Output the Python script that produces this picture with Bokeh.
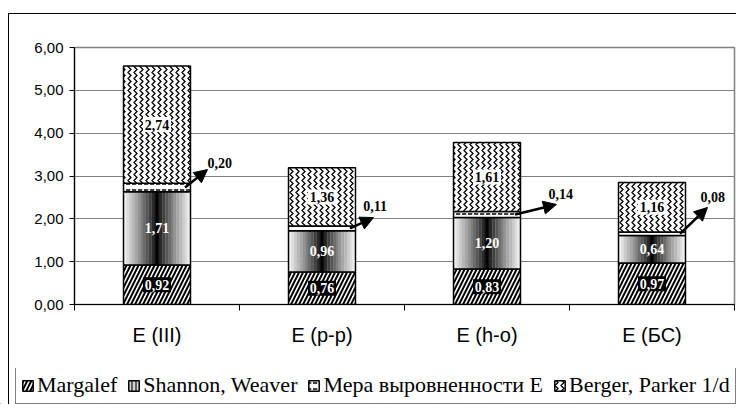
import numpy as np
from bokeh.plotting import figure
from bokeh.layouts import column
from bokeh.models import (ColumnDataSource, FixedTicker, LabelSet, Arrow, NormalHead,
                          Legend, LegendItem, InlineStyleSheet)
from bokeh.embed import file_html
from bokeh.resources import INLINE

# ---- data ----
categories = ["E (III)", "E (р-р)", "E (h-o)", "E (БС)"]
series_names = ["Margalef", "Shannon, Weaver", "Мера выровненности E", "Berger, Parker 1/d"]
margalef = [0.92, 0.76, 0.83, 0.97]
shannon = [1.71, 0.96, 1.20, 0.64]
mera = [0.20, 0.11, 0.14, 0.08]
berger = [2.74, 1.36, 1.61, 1.16]
y_ticks = [0, 1, 2, 3, 4, 5, 6]
y_tick_labels = ["0,00", "1,00", "2,00", "3,00", "4,00", "5,00", "6,00"]

# ---- styling constants (callout offsets for the thin series, data units) ----
callout_end = [(0.306, 0.42), (0.312, 0.255), (0.421, 0.235), (0.336, 0.615)]
callout_lbl = [(0.306, 0.585), (0.25, 0.535), (0.373, 0.49), (0.294, 0.85)]
BAR_W = 0.406
SERIF = "Liberation Serif"
SANS = "Liberation Sans"

STYLE_M = dict(fill_color="white", line_color="black", line_width=1.5,
               hatch_pattern="right_diagonal_line", hatch_color="black",
               hatch_weight=2.0, hatch_scale=8)
STYLE_E = dict(fill_color="white", line_color="black", line_width=1.5,
               hatch_pattern="horizontal_dash", hatch_color="black",
               hatch_weight=1.5, hatch_scale=6)
STYLE_B = dict(fill_color="white", line_color="black", line_width=1.5,
               hatch_pattern="vertical_wave", hatch_color="black",
               hatch_weight=1.3, hatch_scale=6)
STYLE_S_LEG = dict(fill_color="#606060", line_color="black", line_width=1.5,
                   hatch_pattern="vertical_line", hatch_color="white",
                   hatch_weight=1.5, hatch_scale=4)


def fmt(v):
    return f"{v:.2f}".replace(".", ",")


n = len(categories)
x = np.arange(n) + 0.5
b0 = np.zeros(n); t0 = b0 + np.array(margalef)
b1 = t0; t1 = b1 + np.array(shannon)
b2 = t1; t2 = b2 + np.array(mera)
b3 = t2; t3 = b3 + np.array(berger)

src = ColumnDataSource(dict(
    x=x, b0=b0, t0=t0, b1=b1, t1=t1, b2=b2, t2=t2, b3=b3, t3=t3,
    m0=(b0 + t0) / 2, m1=(b1 + t1) / 2, m2=(b2 + t2) / 2, m3=(b3 + t3) / 2,
    l0=[fmt(v) for v in margalef], l1=[fmt(v) for v in shannon],
    l2=[fmt(v) for v in mera], l3=[fmt(v) for v in berger],
))

p = figure(width=736, height=368, output_backend="svg", toolbar_location=None,
           x_range=(0, n), y_range=(0, 6),
           min_border_left=74, min_border_right=2, min_border_top=47, min_border_bottom=64)
p.background_fill_color = "white"
p.border_fill_color = "white"
p.outline_line_color = "#808080"
p.outline_line_width = 1.5
p.xgrid.grid_line_color = None
p.ygrid.grid_line_color = "#808080"
p.ygrid.grid_line_width = 1.2
p.ygrid.ticker = FixedTicker(ticks=y_ticks)

# Margalef
p.vbar(x="x", width=BAR_W, bottom="b0", top="t0", source=src, **STYLE_M)

# Shannon: gradient built from narrow strips
ns = 24
offs = (np.arange(ns) + 0.5) / ns - 0.5
tt = np.abs(offs) / 0.5
g = (248 * tt ** 0.85).astype(int)
strip_colors = ["#%02x%02x%02x" % (v, v, v) for v in np.tile(g, n)]
strip_src = ColumnDataSource(dict(
    x=(x[:, None] + offs[None, :] * BAR_W).ravel(),
    b=np.repeat(b1, ns), t=np.repeat(t1, ns), c=strip_colors))
p.vbar(x="x", width=BAR_W / ns * 1.08, bottom="b", top="t", source=strip_src,
       fill_color="c", line_color=None)
p.segment(x0="x", y0="b1", x1="x", y1="t1", source=src, line_color="black", line_width=1.5)
p.vbar(x="x", width=BAR_W, bottom="b1", top="t1", source=src, fill_color=None,
       line_color="black", line_width=1.5)

# Мера выровненности E
p.vbar(x="x", width=BAR_W, bottom="b2", top="t2", source=src, **STYLE_E)

# Berger, Parker
p.vbar(x="x", width=BAR_W, bottom="b3", top="t3", source=src, **STYLE_B)

# label backgrounds
p.rect(x="x", y="m0", width=28, height=15, width_units="screen", height_units="screen",
       source=src, fill_color="black", line_color=None)
p.rect(x="x", y="m3", width=28, height=15, width_units="screen", height_units="screen",
       source=src, fill_color="white", line_color=None)

# value labels
lbl_kw = dict(source=src, text_font=SERIF, text_font_style="bold", text_font_size="14px",
              text_align="center", text_baseline="middle")
p.add_layout(LabelSet(x="x", y="m0", text="l0", text_color="white", **lbl_kw))
p.add_layout(LabelSet(x="x", y="m1", text="l1", text_color="white", **lbl_kw))
p.add_layout(LabelSet(x="x", y="m3", text="l3", text_color="black", **lbl_kw))

# callouts for the thin series
csrc = ColumnDataSource(dict(
    xs=x + 0.17, ys=(b2 + t2) / 2,
    xe=x + np.array([c[0] for c in callout_end]), ye=(b2 + t2) / 2 + np.array([c[1] for c in callout_end]),
    xl=x + np.array([c[0] for c in callout_lbl]), yl=(b2 + t2) / 2 + np.array([c[1] for c in callout_lbl]),
    txt=[fmt(v) for v in mera]))
p.add_layout(Arrow(end=NormalHead(size=13, fill_color="black", line_color="black"),
                   x_start="xs", y_start="ys", x_end="xe", y_end="ye", source=csrc,
                   line_color="black", line_width=2.5))
p.add_layout(LabelSet(x="xl", y="yl", text="txt", source=csrc, text_font=SERIF,
                      text_font_style="bold", text_font_size="14px", text_align="left",
                      text_baseline="middle", text_color="black"))

# axes
xa = p.xaxis[0]
xa.ticker = FixedTicker(ticks=list(x), minor_ticks=list(range(n + 1)))
xa.major_label_overrides = {float(xi): c for xi, c in zip(x, categories)}
xa.major_tick_out = 0
xa.major_tick_in = 0
xa.minor_tick_out = 6
xa.minor_tick_in = 0
xa.minor_tick_line_color = "black"
xa.axis_line_color = "black"
xa.axis_line_width = 1.2
xa.major_label_text_font = SANS
xa.major_label_text_font_size = "20px"
xa.major_label_text_color = "black"
xa.major_label_standoff = 13

ya = p.yaxis[0]
ya.ticker = FixedTicker(ticks=y_ticks)
ya.major_label_overrides = {t: l for t, l in zip(y_ticks, y_tick_labels)}
ya.major_tick_out = 5
ya.major_tick_in = 0
ya.minor_tick_out = 0
ya.minor_tick_in = 0
ya.axis_line_color = "black"
ya.axis_line_width = 1.2
ya.major_label_text_font = SANS
ya.major_label_text_font_size = "15px"
ya.major_label_text_color = "black"
ya.major_label_standoff = 6

# ---- legend strip (separate figure so the legend is not clipped) ----
q = figure(width=736, height=36, output_backend="svg", toolbar_location=None,
           x_axis_location=None, y_axis_location=None, min_border=0,
           x_range=(0, 1), y_range=(0, 1))
for fig in (p, q):
    if hasattr(fig, "frame_align"):
        fig.frame_align = False
q.outline_line_color = None
q.background_fill_color = "white"
q.border_fill_color = "white"
q.xgrid.visible = False
q.ygrid.visible = False
# legend swatches: one off-range point each so the legend has a glyph to draw
lr_m = q.vbar(x=[-5], top=[-5], width=0.1, **STYLE_M)
lr_s = q.vbar(x=[-5], top=[-5], width=0.1, **STYLE_S_LEG)
lr_e = q.vbar(x=[-5], top=[-5], width=0.1, **STYLE_E)
lr_b = q.vbar(x=[-5], top=[-5], width=0.1, **STYLE_B)
legend = Legend(items=[LegendItem(label=series_names[0], renderers=[lr_m]),
                       LegendItem(label=series_names[1], renderers=[lr_s]),
                       LegendItem(label=series_names[2], renderers=[lr_e]),
                       LegendItem(label=series_names[3], renderers=[lr_b])],
                orientation="horizontal", location=(15, 0),
                label_text_font=SERIF, label_text_font_size="22px", label_text_color="black",
                glyph_width=13, glyph_height=13, label_standoff=3, spacing=10,
                padding=5, margin=0, label_height=21,
                border_line_color="black", border_line_width=1,
                background_fill_color="white", background_fill_alpha=1)
q.add_layout(legend)

layout = column(p, q, spacing=0)
# outer chart frame (left and top edges visible)
layout.stylesheets = [InlineStyleSheet(css=""":host::after {
  content: ''; position: absolute; left: 8px; top: 13px; right: 0px; bottom: 0px;
  border-left: 1.5px solid black; border-top: 1.5px solid black;
  pointer-events: none; z-index: 10;
}""")]

open("out.html", "w").write(file_html(layout, INLINE))
